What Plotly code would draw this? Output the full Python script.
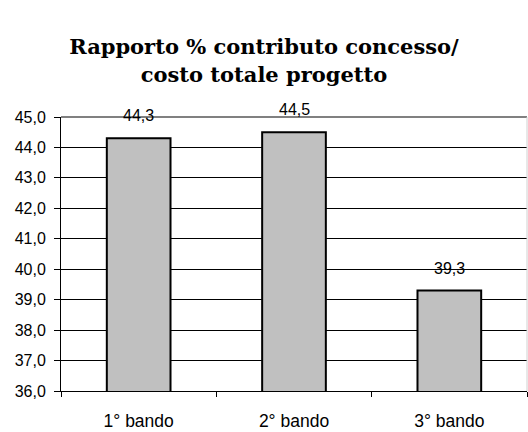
import plotly.graph_objects as go

categories = ["1° bando", "2° bando", "3° bando"]
values = [44.3, 44.5, 39.3]
y_ticks = [36, 37, 38, 39, 40, 41, 42, 43, 44, 45]

sans = "Liberation Sans, Arial, sans-serif"
tick_font = dict(family=sans, size=16, color="black")
cat_font = dict(family=sans, size=17.5, color="black")
value_font = dict(family=sans, size=16, color="black")

fig = go.Figure()
fig.add_trace(go.Bar(
    x=categories,
    y=values,
    width=0.41,
    marker=dict(color="#C0C0C0", line=dict(color="black", width=2)),
    cliponaxis=False,
    hoverinfo="skip",
))

# value labels sitting above each bar
for c, v in zip(categories, values):
    fig.add_annotation(
        x=c, y=v, text=f"{v:.1f}".replace(".", ","),
        showarrow=False, yanchor="bottom", yshift=12,
        font=value_font,
    )

fig.update_layout(
    width=528, height=432,
    margin=dict(l=61, r=1, t=117, b=41),
    paper_bgcolor="white", plot_bgcolor="white",
    separators=",.",
    showlegend=False,
    title=dict(
        text="<b>Rapporto % contributo concesso/<br>costo totale progetto</b>",
        x=0.5, xanchor="center", xref="container",
        y=0.874, yanchor="bottom", yref="container",
        font=dict(family="DejaVu Serif, serif", size=21, color="black"),
        pad=dict(t=0, b=0),
    ),
    xaxis=dict(
        type="category",
        showline=True, linecolor="black", linewidth=1,
        ticks="outside", tickson="boundaries", ticklen=5, tickcolor="black",
        showgrid=False,
        tickfont=cat_font,
        ticklabelstandoff=14,
    ),
    yaxis=dict(
        range=[36, 45],
        tickvals=y_ticks,
        tickformat=".1f",
        showline=True, linecolor="black", linewidth=1,
        ticks="outside", ticklen=6, tickcolor="black",
        showgrid=True, gridcolor="black", gridwidth=1,
        tickfont=tick_font,
        ticklabelstandoff=5,
        zeroline=False,
    ),
    shapes=[
        dict(type="line", xref="paper", yref="paper", x0=0, x1=1, y0=1, y1=1,
             line=dict(color="#808080", width=2), layer="above"),
        dict(type="line", xref="paper", yref="paper", x0=1, x1=1, y0=0, y1=1,
             line=dict(color="#D0D0D0", width=1), layer="above"),
    ],
)

fig.write_html("out.html")
